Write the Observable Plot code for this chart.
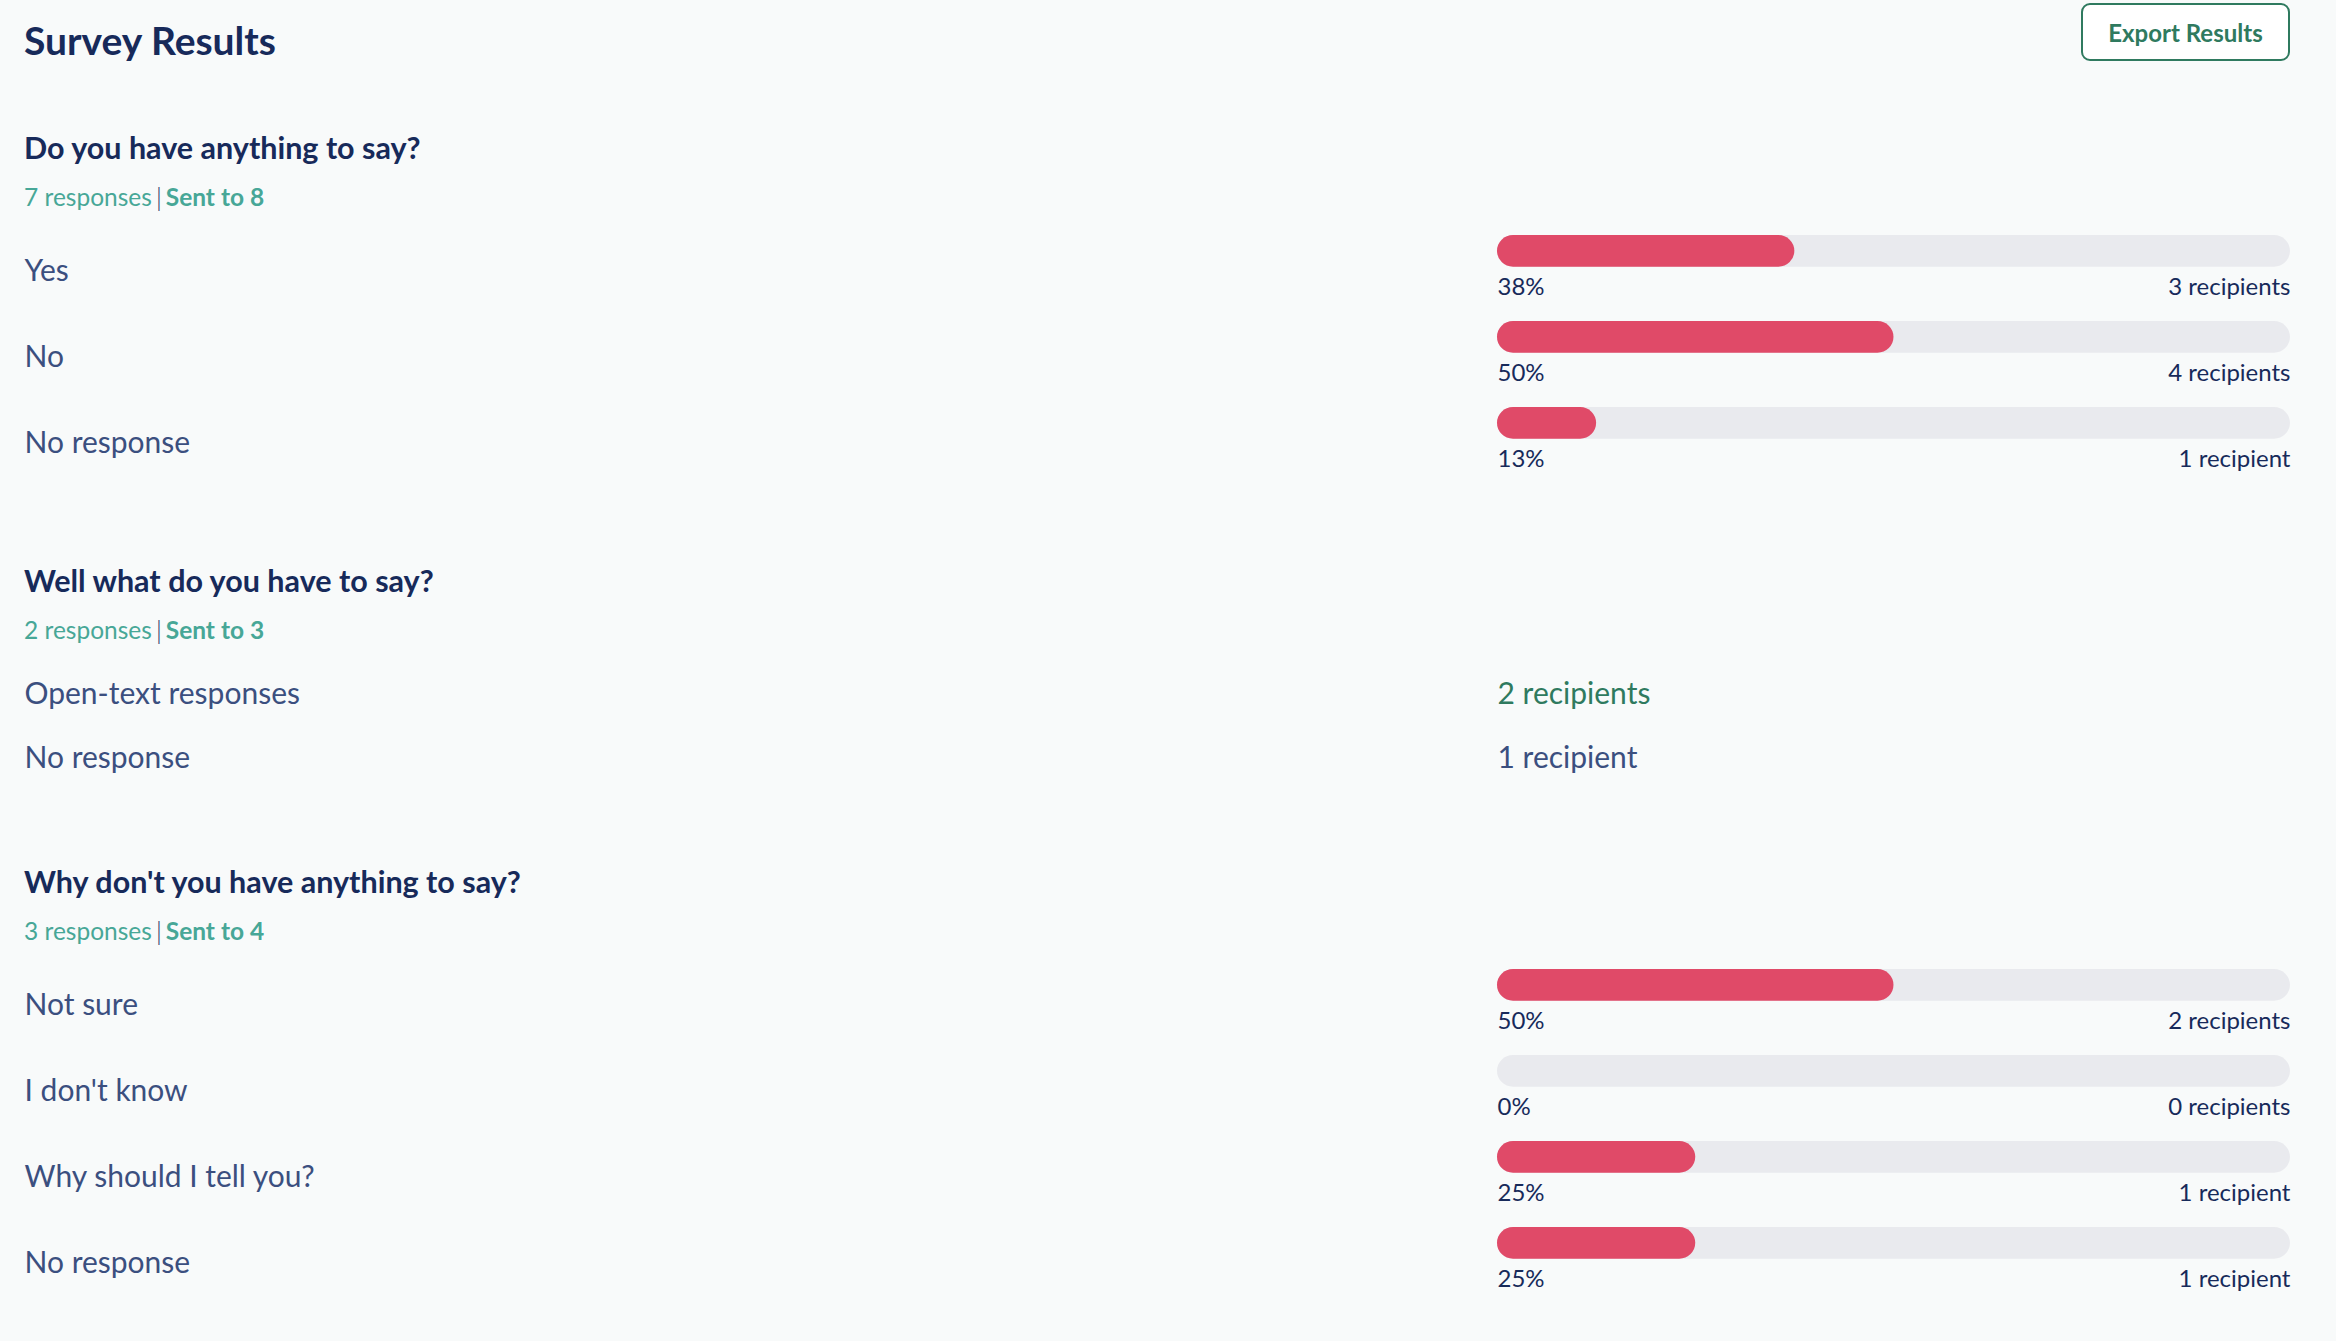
<!DOCTYPE html>
<html>
<head>
<meta charset="utf-8">
<script src="https://cdn.jsdelivr.net/npm/d3@7"></script>
<script src="https://cdn.jsdelivr.net/npm/@observablehq/plot@0.6"></script>
<style>
  html, body { margin: 0; padding: 0; background: #f8fafa; }
  body { width: 2336px; height: 1341px; position: relative; overflow: hidden;
         font-family: Lato, "Noto Sans", sans-serif; }
  .abs { position: absolute; white-space: nowrap; line-height: 1; }
  .btn { position: absolute; left: 2081px; top: 3px; width: 205px; height: 54px;
         border: 2px solid #2f7a5f; border-radius: 9px; background: #ffffff;
         color: #2f7a5f; font-weight: 700; font-size: 24px;
         display: flex; align-items: center; justify-content: center; box-sizing: content-box; }
  .plotwrap { position: absolute; left: 0; }
  .plotwrap svg { display: block; }
</style>
</head>
<body>
<script>
// ---------- data ----------
const pageTitle = "Survey Results";
const exportLabel = "Export Results";
const questions = ["Do you have anything to say?", "Well what do you have to say?", "Why don't you have anything to say?"];
const responsesCount = [7, 2, 3];
const sentCount = [8, 3, 4];

const q1Options = ["Yes", "No", "No response"];
const q1Counts = [3, 4, 1];

const q2Options = ["Open-text responses", "No response"];
const q2Counts = [2, 1];

const q3Options = ["Not sure", "I don't know", "Why should I tell you?", "No response"];
const q3Counts = [2, 0, 1, 1];

// ---------- style ----------
const FONT = "Lato, 'Noto Sans', sans-serif";
const NAVY = "#172a5a";
const SLATE = "#3b4f7f";
const TEAL = "#47a797";
const GREEN = "#2f7a5f";
const RED = "#e04a68";
const TRACK = "#e9eaee";

const W = 2336;
const BAR_LEFT = 1497, BAR_RIGHT_MARGIN = 46;
const ROW = 86.3, ROW_OPEN = 64;
const BAR_H = 32, BAR_INSET_TOP = 9;
const LABEL_SIZE = 30, SMALL_SIZE = 24;

const recipients = n => `${n} ${n === 1 ? "recipient" : "recipients"}`;

function placeText(html, left, baseline, size, weight, color) {
  const d = document.createElement("div");
  d.className = "abs";
  d.style.left = left + "px";
  d.style.top = (baseline - 0.887 * size) + "px";
  d.style.fontSize = size + "px";
  d.style.fontWeight = weight;
  d.style.color = color;
  d.innerHTML = html;
  document.body.appendChild(d);
  return d;
}

function placePlot(svg, top) {
  const w = document.createElement("div");
  w.className = "plotwrap";
  w.style.top = top + "px";
  w.appendChild(svg);
  document.body.appendChild(w);
}

function barBlock(options, counts, sent) {
  const rows = options.map((o, i) => ({option: o, count: counts[i], share: counts[i] / sent}));
  return Plot.plot({
    width: W,
    height: rows.length * ROW,
    marginLeft: BAR_LEFT, marginRight: BAR_RIGHT_MARGIN, marginTop: 0, marginBottom: 0,
    x: {domain: [0, 1], axis: null},
    y: {type: "band", domain: options, axis: null, padding: 0},
    style: {background: "transparent", fontFamily: FONT, overflow: "visible"},
    marks: [
      Plot.barX(rows, {x1: () => 0, x2: () => 1, y: "option", fill: TRACK, rx: BAR_H / 2,
        insetTop: BAR_INSET_TOP, insetBottom: ROW - BAR_INSET_TOP - BAR_H}),
      Plot.barX(rows.filter(d => d.count > 0), {x1: () => 0, x2: "share", y: "option", fill: RED, rx: BAR_H / 2,
        insetTop: BAR_INSET_TOP, insetBottom: ROW - BAR_INSET_TOP - BAR_H}),
      Plot.text(rows, {y: "option", frameAnchor: "left", dx: 24 - BAR_LEFT, textAnchor: "start",
        lineAnchor: "bottom", dy: 12, text: "option", fontSize: LABEL_SIZE, fill: SLATE}),
      Plot.text(rows, {x: () => 0, y: "option", textAnchor: "start", lineAnchor: "bottom", dy: 26,
        text: d => `${Math.round(100 * d.share)}%`, fontSize: SMALL_SIZE, fill: NAVY}),
      Plot.text(rows, {x: () => 1, y: "option", textAnchor: "end", lineAnchor: "bottom", dy: 26,
        text: d => recipients(d.count), fontSize: SMALL_SIZE, fill: NAVY})
    ]
  });
}

function openBlock(options, counts) {
  const rows = options.map((o, i) => ({option: o, count: counts[i], isText: i === 0}));
  return Plot.plot({
    width: W,
    height: rows.length * ROW_OPEN,
    marginLeft: BAR_LEFT, marginRight: BAR_RIGHT_MARGIN, marginTop: 0, marginBottom: 0,
    x: {domain: [0, 1], axis: null},
    y: {type: "band", domain: options, axis: null, padding: 0},
    color: {type: "identity"},
    style: {background: "transparent", fontFamily: FONT, overflow: "visible"},
    marks: [
      Plot.text(rows, {y: "option", frameAnchor: "left", dx: 24 - BAR_LEFT, textAnchor: "start",
        lineAnchor: "bottom", dy: 11, text: "option", fontSize: LABEL_SIZE, fill: SLATE}),
      Plot.text(rows, {x: () => 0, y: "option", textAnchor: "start", lineAnchor: "bottom", dy: 11,
        text: d => recipients(d.count), fontSize: LABEL_SIZE, fill: d => d.isText ? GREEN : SLATE})
    ]
  });
}

// ---------- page ----------
placeText(pageTitle, 24, 56, 39, 700, NAVY);
const btn = document.createElement("div");
btn.className = "btn";
btn.textContent = exportLabel;
document.body.appendChild(btn);

const headingBase = [159.5, 592.5, 893];
const metaBase = [206.5, 639.5, 940.5];
questions.forEach((q, i) => {
  placeText(q, 24, headingBase[i], 30.5, 700, NAVY);
  placeText(`<span style="font-weight:400">${responsesCount[i]} responses</span><span style="color:${NAVY};font-weight:300;margin:0 4px">|</span><span style="font-weight:700">Sent to ${sentCount[i]}</span>`,
    24, metaBase[i], 24.5, 400, TEAL);
});

placePlot(barBlock(q1Options, q1Counts, sentCount[0]), 226);
placePlot(openBlock(q2Options, q2Counts), 659.5);
placePlot(barBlock(q3Options, q3Counts, sentCount[2]), 959);
</script>
</body>
</html>
